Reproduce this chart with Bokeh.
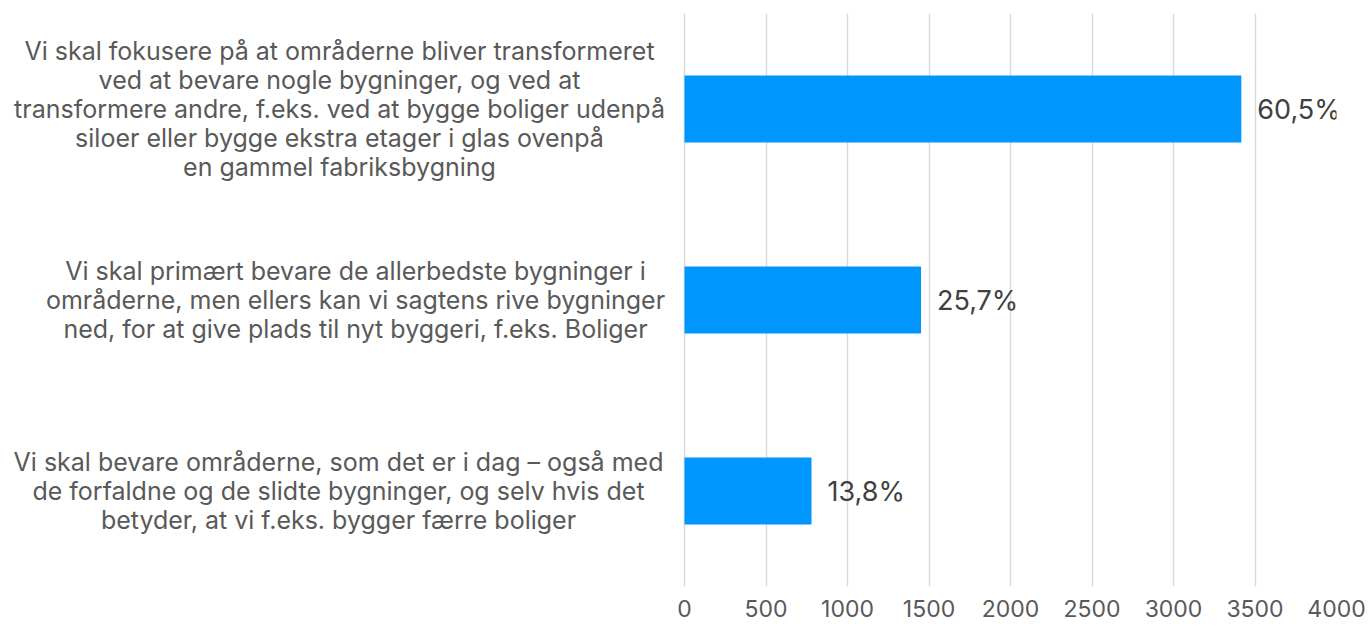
from bokeh.plotting import figure
from bokeh.models import Range1d, ColumnDataSource, LabelSet, Label, FixedTicker
from bokeh.core.properties import value
from bokeh.embed import file_html
from bokeh.resources import INLINE

categories = [
    "Vi skal fokusere på at områderne bliver transformeret\nved at bevare nogle bygninger, og ved at\ntransformere andre, f.eks. ved at bygge boliger udenpå\nsiloer eller bygge ekstra etager i glas ovenpå\nen gammel fabriksbygning",
    "Vi skal primært bevare de allerbedste bygninger i\nområderne, men ellers kan vi sagtens rive bygninger\nned, for at give plads til nyt byggeri, f.eks. Boliger",
    "Vi skal bevare områderne, som det er i dag – også med\nde forfaldne og de slidte bygninger, og selv hvis det\nbetyder, at vi f.eks. bygger færre boliger",
]
values = [3416, 1451, 779]
pct_labels = ["60,5%", "25,7%", "13,8%"]
x_ticks = [0, 500, 1000, 1500, 2000, 2500, 3000, 3500, 4000]

FONT = "Inter"
n = len(categories)
ypos = [n - i - 0.5 for i in range(n)]

# layout: the value axis (0..4000) spans 652 px, starting 684 px right of the frame's left edge
AXIS_PX = 652
LEFT_PX = 684
x_start = -LEFT_PX * x_ticks[-1] / AXIS_PX

p = figure(
    frame_width=AXIS_PX + LEFT_PX, frame_height=573,
    min_border_left=0, min_border_right=30, min_border_top=13, min_border_bottom=36,
    x_range=Range1d(x_start, x_ticks[-1]), y_range=Range1d(0, n),
    output_backend="svg", toolbar_location=None,
)
p.outline_line_color = None
p.background_fill_color = "white"
p.border_fill_color = "white"

src = ColumnDataSource(dict(y=ypos, v=values, t=pct_labels))
p.hbar(y="y", right="v", left=0, height=0.35, source=src, fill_color="#0096FF", line_color=None)

p.yaxis.visible = False
p.ygrid.grid_line_color = None
p.xgrid.grid_line_color = "#D9D9D9"
p.xgrid.grid_line_width = 1.5
p.xaxis.ticker = FixedTicker(ticks=x_ticks)
p.xaxis.axis_line_color = None
p.xaxis.major_tick_line_color = None
p.xaxis.minor_tick_line_color = None
p.xaxis.major_label_standoff = 7
p.xaxis.major_label_text_font = FONT
p.xaxis.major_label_text_font_size = "23px"
p.xaxis.major_label_text_color = "#595959"

p.add_layout(LabelSet(x="v", y="y", text="t", source=src, x_offset=16,
                      text_baseline="middle", text_align="left",
                      text_font=value(FONT), text_font_size=value("27px"), text_color=value("#404040")))

label_x = [339, 355, 338]
for yy, c, lx in zip(ypos, categories, label_x):
    p.add_layout(Label(x=lx, x_units="screen", y=yy, text=c, text_align="center",
                       text_baseline="middle", text_font=FONT, text_font_size="25px",
                       text_color="#595959", text_line_height=0.97))

open("out.html", "w").write(file_html(p, INLINE))
